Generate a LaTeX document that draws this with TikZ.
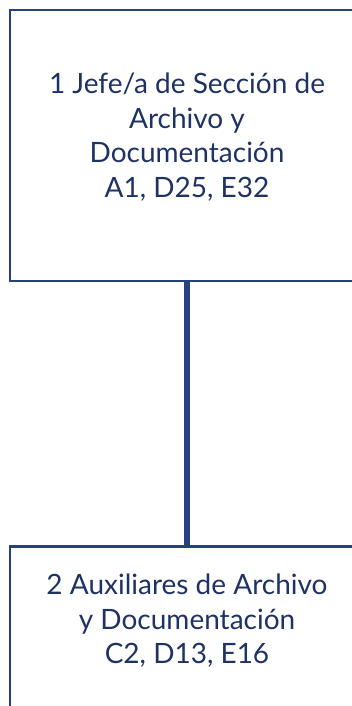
\documentclass[tikz,border=0pt]{standalone}
\usepackage{fontspec}
\setmainfont{Lato}
\usepackage{xcolor}
\usetikzlibrary{positioning}
\definecolor{orgline}{HTML}{27407E}
\definecolor{orgtext}{HTML}{1F3264}

\begin{document}
\begin{tikzpicture}[
    x=1pt, y=1pt,
    node distance=263pt,
    frame/.style={
        draw=orgline,
        line width=2.4pt,
        minimum width=354pt,
        inner sep=0pt
    },
    lbl/.style={
        align=center,
        text=orgtext,
        font=\fontsize{28}{34.5}\selectfont
    },
    link/.style={draw=orgline, line width=6pt}
]
\useasboundingbox (0,0) rectangle (351,706);

\node[frame, minimum height=271pt] (jefebox) at (187,560.5) {};
\node[frame, minimum height=300pt, below=of jefebox] (auxbox) {};

\node[lbl] (jefe) at (187,569) {1 Jefe/a de Sección de\\Archivo y\\Documentación\\A1, D25, E32};
\node[lbl] (aux) at (187,85) {2 Auxiliares de Archivo\\y Documentación\\C2, D13, E16};

\draw[link] (jefebox.south) -- (auxbox.north);

\end{tikzpicture}
\end{document}
